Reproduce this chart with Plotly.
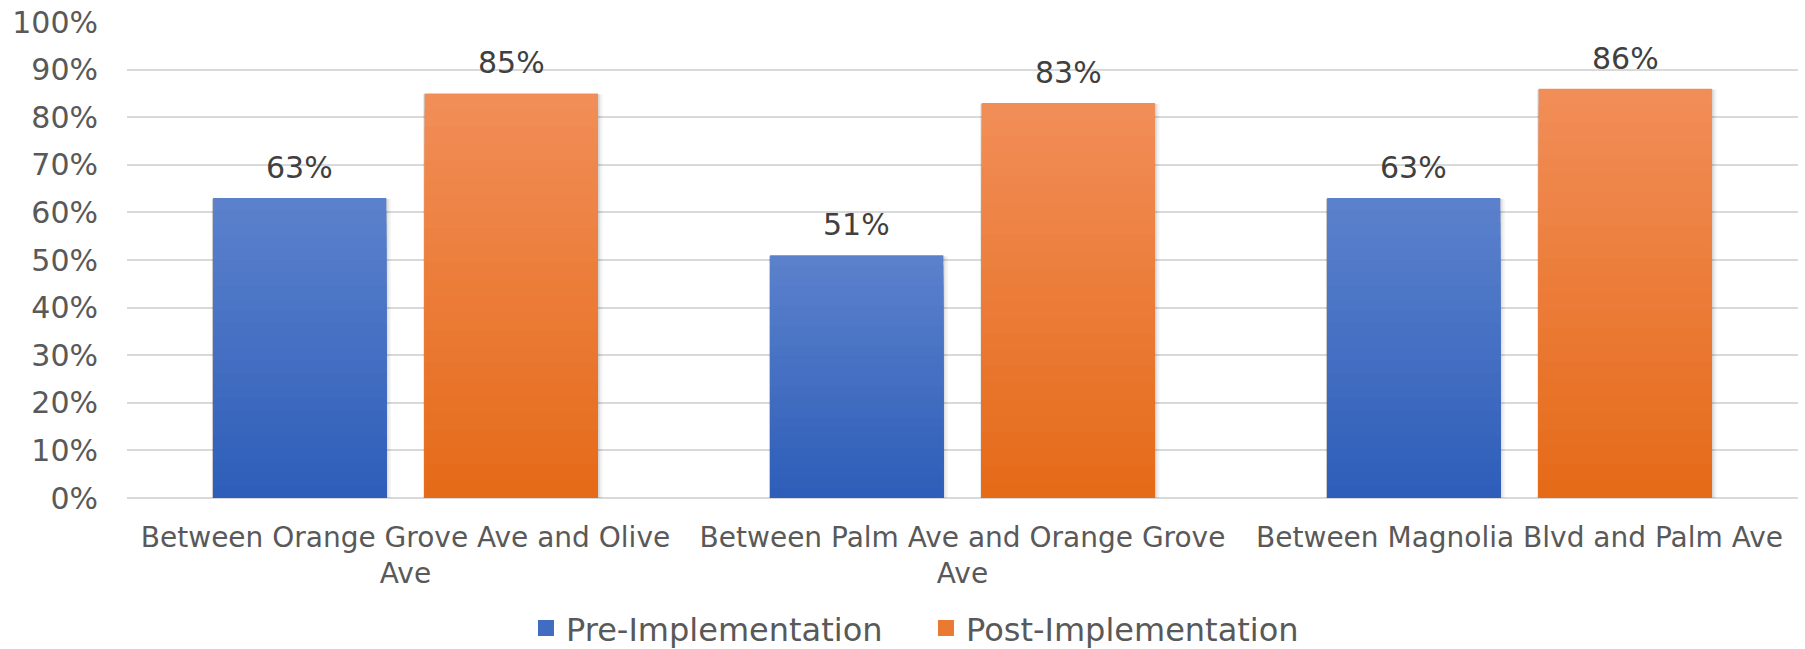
import plotly.graph_objects as go

# Data
categories = [
    "Between Orange Grove Ave and Olive<br>Ave",
    "Between Palm Ave and Orange Grove<br>Ave",
    "Between Magnolia Blvd and Palm Ave",
]
series_names = ["Pre-Implementation", "Post-Implementation"]
pre_values = [0.63, 0.51, 0.63]
post_values = [0.85, 0.83, 0.86]

# Styling
FONT = "DejaVu Sans"
AXIS_GREY = "#595959"
LABEL_GREY = "#404040"
GRID = "#D9D9D9"
N_LAYERS = 24
BAR_WIDTH = 0.311
CENTER_SHIFT = 0.19
# (top colour, bottom colour) for the vertical gradient of each series
GRADIENTS = [((0x5B, 0x81, 0xCC), (0x2E, 0x5E, 0xB9)),
             ((0xF1, 0x8D, 0x57), (0xE5, 0x6B, 0x19))]


def mix(c1, c2, t):
    return "rgb({},{},{})".format(*[round(a + (b - a) * t) for a, b in zip(c1, c2)])


fig = go.Figure()

for s, (name, vals) in enumerate(zip(series_names, [pre_values, post_values])):
    offset = (CENTER_SHIFT if s else -CENTER_SHIFT) - BAR_WIDTH / 2
    # soft drop shadow
    for dx, op in [(0.010, 0.05), (0.006, 0.07), (0.003, 0.09)]:
        fig.add_trace(go.Bar(
            x=categories, y=[v + 0.004 for v in vals], base=-0.006,
            offset=offset - 0.002, width=BAR_WIDTH + dx,
            marker=dict(color=f"rgba(0,0,0,{op})", line=dict(width=0)),
            showlegend=False, hoverinfo="skip",
        ))
    top, bottom = GRADIENTS[s]
    # stacked overlays, each shorter and darker, form the vertical gradient
    for k in range(N_LAYERS):
        frac = 1 - k / N_LAYERS
        fig.add_trace(go.Bar(
            x=categories, y=[v * frac for v in vals],
            offset=offset, width=BAR_WIDTH,
            marker=dict(color=mix(top, bottom, k / (N_LAYERS - 1)), line=dict(width=0)),
            name=name, legendgroup=name, showlegend=False,
            hoverinfo="skip" if k else "y",
        ))
    # legend key (larger square swatch than the default bar key)
    fig.add_trace(go.Scatter(
        x=[None], y=[None], mode="markers", name=name, legendgroup=name,
        marker=dict(symbol="square", size=18, color=mix(top, bottom, 0.6)),
        hoverinfo="skip",
    ))
    for i, v in enumerate(vals):
        fig.add_annotation(
            x=i + offset + BAR_WIDTH / 2, y=v, xref="x", yref="y",
            text=f"{round(v * 100)}%", showarrow=False,
            yanchor="bottom", yshift=11,
            font=dict(family=FONT, size=30, color=LABEL_GREY),
        )

fig.update_layout(
    width=1805, height=649,
    margin=dict(l=127, r=7, t=22, b=151, autoexpand=False),
    barmode="overlay",
    plot_bgcolor="white", paper_bgcolor="white",
    font=dict(family=FONT, color=AXIS_GREY, size=28),
    legend=dict(
        orientation="h", xref="container", yref="container",
        x=0.2914, xanchor="left", y=0.032, yanchor="middle",
        entrywidth=355, entrywidthmode="pixels", itemwidth=30,
        font=dict(family=FONT, size=32, color=AXIS_GREY),
        traceorder="normal", itemclick=False,
    ),
)
fig.update_yaxes(
    range=[0, 1], dtick=0.1, tickformat=".0%",
    showgrid=True, gridcolor=GRID, gridwidth=1.5,
    zeroline=True, zerolinecolor=GRID, zerolinewidth=2,
    showline=False, ticks="", ticklabelstandoff=28, automargin=False,
    tickfont=dict(family=FONT, size=30, color=AXIS_GREY),
)
fig.update_xaxes(
    showline=False, ticks="", ticklabelstandoff=20, automargin=False,
    tickfont=dict(family=FONT, size=28, color=AXIS_GREY),
)

fig.write_html("out.html")
